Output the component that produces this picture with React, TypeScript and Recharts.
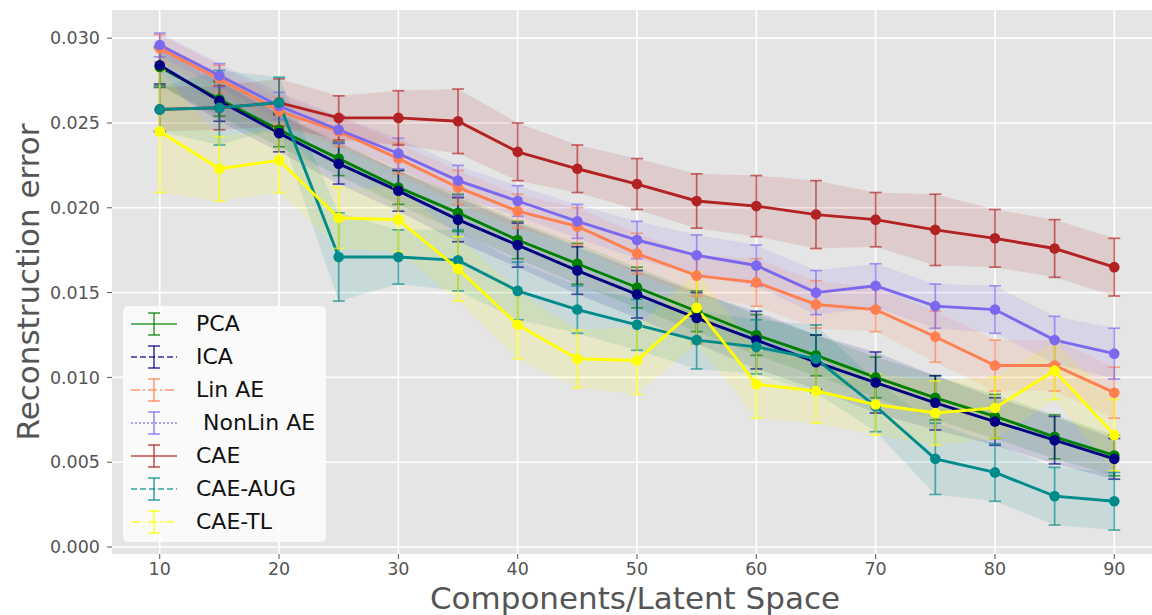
import React from 'react';
import { ComposedChart, Line, Area, XAxis, YAxis, CartesianGrid, ErrorBar, Legend } from 'recharts';

const components = [10, 15, 20, 25, 30, 35, 40, 45, 50, 55, 60, 65, 70, 75, 80, 85, 90];

const pcaMean = [0.0283, 0.0264, 0.0246, 0.0229, 0.0212, 0.0197, 0.0181, 0.0167, 0.0153, 0.0139, 0.0125, 0.0113, 0.0100, 0.0088, 0.0077, 0.0065, 0.0054];
const pcaErr = [0.0011, 0.0010, 0.0010, 0.0010, 0.0010, 0.0011, 0.0011, 0.0012, 0.0012, 0.0012, 0.0012, 0.0012, 0.0012, 0.0013, 0.0013, 0.0013, 0.0012];

const icaMean = [0.0284, 0.0263, 0.0244, 0.0226, 0.0210, 0.0193, 0.0178, 0.0163, 0.0149, 0.0135, 0.0122, 0.0109, 0.0097, 0.0085, 0.0074, 0.0063, 0.0052];
const icaErr = [0.0011, 0.0012, 0.0011, 0.0012, 0.0012, 0.0013, 0.0013, 0.0014, 0.0014, 0.0015, 0.0017, 0.0016, 0.0018, 0.0016, 0.0014, 0.0014, 0.0012];

const linAeMean = [0.0294, 0.0276, 0.0257, 0.0245, 0.0229, 0.0212, 0.0198, 0.0189, 0.0173, 0.0160, 0.0156, 0.0143, 0.0140, 0.0124, 0.0107, 0.0107, 0.0091];
const linAeErr = [0.0008, 0.0008, 0.0008, 0.0009, 0.0009, 0.0010, 0.0010, 0.0011, 0.0012, 0.0012, 0.0014, 0.0014, 0.0013, 0.0015, 0.0015, 0.0015, 0.0015];

const nonLinAeMean = [0.0296, 0.0278, 0.0260, 0.0246, 0.0232, 0.0216, 0.0204, 0.0192, 0.0181, 0.0172, 0.0166, 0.0150, 0.0154, 0.0142, 0.0140, 0.0122, 0.0114];
const nonLinAeErr = [0.0007, 0.0007, 0.0008, 0.0008, 0.0009, 0.0009, 0.0009, 0.0010, 0.0011, 0.0012, 0.0012, 0.0013, 0.0013, 0.0013, 0.0014, 0.0014, 0.0015];

const caeMean = [0.0258, 0.0259, 0.0262, 0.0253, 0.0253, 0.0251, 0.0233, 0.0223, 0.0214, 0.0204, 0.0201, 0.0196, 0.0193, 0.0187, 0.0182, 0.0176, 0.0165];
const caeErr = [0.0013, 0.0013, 0.0014, 0.0013, 0.0016, 0.0019, 0.0017, 0.0014, 0.0015, 0.0016, 0.0018, 0.0020, 0.0016, 0.0021, 0.0017, 0.0017, 0.0017];

const caeAugMean = [0.0258, 0.0259, 0.0262, 0.0171, 0.0171, 0.0169, 0.0151, 0.0140, 0.0131, 0.0122, 0.0118, 0.0111, 0.0083, 0.0052, 0.0044, 0.0030, 0.0027];
const caeAugErr = [0.0013, 0.0022, 0.0015, 0.0026, 0.0016, 0.0018, 0.0017, 0.0014, 0.0015, 0.0017, 0.0016, 0.0020, 0.0015, 0.0021, 0.0017, 0.0017, 0.0017];

const caeTlMean = [0.0245, 0.0223, 0.0228, 0.0194, 0.0193, 0.0164, 0.0131, 0.0111, 0.0110, 0.0141, 0.0096, 0.0092, 0.0084, 0.0079, 0.0082, 0.0104, 0.0066];
const caeTlErr = [0.0036, 0.0019, 0.0019, 0.0018, 0.0019, 0.0019, 0.0020, 0.0017, 0.0020, 0.0021, 0.0020, 0.0019, 0.0018, 0.0019, 0.0018, 0.0017, 0.0021];

const seriesNames = ['PCA', 'ICA', 'Lin AE', ' NonLin AE', 'CAE', 'CAE-AUG', 'CAE-TL'];
const seriesKeys = ['pca', 'ica', 'linAe', 'nonLinAe', 'cae', 'caeAug', 'caeTl'];
const seriesColors = ['#008000', '#000080', '#FF7F50', '#7B68EE', '#B22222', '#008B8B', '#FFFF00'];
const legendDash = ['', '6 3', '9 3 2 3', '2 2', '', '6 3', '9 3 2 3'];
const seriesMeans = [pcaMean, icaMean, linAeMean, nonLinAeMean, caeMean, caeAugMean, caeTlMean];
const seriesErrs = [pcaErr, icaErr, linAeErr, nonLinAeErr, caeErr, caeAugErr, caeTlErr];

const xTicks = [10, 20, 30, 40, 50, 60, 70, 80, 90];
const yTicks = [0, 0.005, 0.01, 0.015, 0.02, 0.025, 0.03];

const data = components.map((c, i) => {
  const row: Record<string, any> = { x: c };
  seriesKeys.forEach((k, s) => {
    const m = seriesMeans[s][i];
    const e = seriesErrs[s][i];
    row[k] = m;
    row[k + 'Err'] = e;
    row[k + 'Band'] = [m - e, m + e];
  });
  return row;
});

function rgba(hex: string, a: number) {
  const n = parseInt(hex.slice(1), 16);
  return `rgba(${(n >> 16) & 255},${(n >> 8) & 255},${n & 255},${a})`;
}

const FONT = '"DejaVu Sans", sans-serif';

function LegendBox() {
  return (
    <div
      style={{
        width: 203,
        height: 236,
        background: 'rgba(252,252,252,0.9)',
        borderRadius: 5,
        boxSizing: 'border-box',
        position: 'relative',
        fontFamily: FONT,
      }}
    >
      {seriesNames.map((name, i) => (
        <div key={name} style={{ position: 'absolute', left: 0, top: 17.7 + i * 33 - 16, height: 32, width: 203 }}>
          <svg width={60} height={32} style={{ position: 'absolute', left: 0, top: 0 }}>
            <line x1={8} x2={54} y1={16} y2={16} stroke={rgba(seriesColors[i], 0.6)} strokeWidth={2} strokeDasharray={legendDash[i] || undefined} />
            <line x1={31} x2={31} y1={5} y2={27} stroke={rgba(seriesColors[i], 0.6)} strokeWidth={2} />
            <line x1={25} x2={37} y1={5} y2={5} stroke={rgba(seriesColors[i], 0.6)} strokeWidth={2} />
            <line x1={25} x2={37} y1={27} y2={27} stroke={rgba(seriesColors[i], 0.6)} strokeWidth={2} />
          </svg>
          <span style={{ position: 'absolute', left: 73, top: 2, fontSize: 22, lineHeight: '28px', color: '#111', whiteSpace: 'pre' }}>{name}</span>
        </div>
      ))}
    </div>
  );
}

export default function App() {
  const items: React.ReactNode[] = [];
  seriesKeys.forEach((k, s) => {
    items.push(
      <Area
        key={k + '-band'}
        type="linear"
        dataKey={k + 'Band'}
        stroke="none"
        fill={seriesColors[s]}
        fillOpacity={0.13}
        isAnimationActive={false}
        activeDot={false}
        legendType="none"
      />
    );
    items.push(
      <Line
        key={k + '-line'}
        type="linear"
        dataKey={k}
        stroke={seriesColors[s]}
        strokeWidth={2.9}
        dot={{ r: 5.3, fill: seriesColors[s], stroke: seriesColors[s], strokeWidth: 0 }}
        activeDot={false}
        isAnimationActive={false}
      >
        <ErrorBar dataKey={k + 'Err'} direction="y" width={6} stroke={rgba(seriesColors[s], 0.65)} strokeWidth={1.7} />
      </Line>
    );
  });

  return (
    <div style={{ position: 'fixed', left: 0, top: 0, width: 1152, height: 615, overflow: 'hidden', background: '#fff', fontFamily: FONT }}>
      <ComposedChart width={1170} height={615} data={data} margin={{ top: 10, right: 8, left: 0, bottom: 0 }}>
        <CartesianGrid fill="#E5E5E5" fillOpacity={1} stroke="#FFFFFF" strokeWidth={1.6} horizontalValues={yTicks} verticalValues={xTicks} />
        <XAxis
          dataKey="x"
          type="number"
          domain={[6, 94]}
          ticks={xTicks}
          allowDataOverflow
          height={61}
          axisLine={false}
          tickLine={{ stroke: '#555', strokeWidth: 1 }}
          tickSize={5}
          tickMargin={4}
          tick={{ fill: '#555', fontSize: 17.5, fontFamily: FONT }}
        />
        <YAxis
          type="number"
          domain={[-0.00041, 0.03166]}
          ticks={yTicks}
          allowDataOverflow
          width={112}
          axisLine={false}
          tickLine={{ stroke: '#555', strokeWidth: 1 }}
          tickSize={5}
          tickMargin={7}
          tickFormatter={(v: number) => v.toFixed(3)}
          tick={{ fill: '#555', fontSize: 17.5, fontFamily: FONT }}
        />
        {items}
        <Legend
          layout="vertical"
          align="center"
          verticalAlign="middle"
          content={() => <LegendBox />}
          wrapperStyle={{ position: 'absolute', left: 123, top: 306, width: 203, height: 236 }}
        />
      </ComposedChart>
      <div
        style={{
          position: 'absolute',
          left: 28,
          top: 282,
          transform: 'translate(-50%, -50%) rotate(-90deg)',
          fontSize: 31,
          color: '#555',
          whiteSpace: 'nowrap',
          fontFamily: FONT,
        }}
      >
        Reconstruction error
      </div>
      <div
        style={{
          position: 'absolute',
          left: 635,
          top: 598,
          transform: 'translate(-50%, -50%)',
          fontSize: 31,
          color: '#555',
          whiteSpace: 'nowrap',
          fontFamily: FONT,
        }}
      >
        Components/Latent Space
      </div>
    </div>
  );
}
